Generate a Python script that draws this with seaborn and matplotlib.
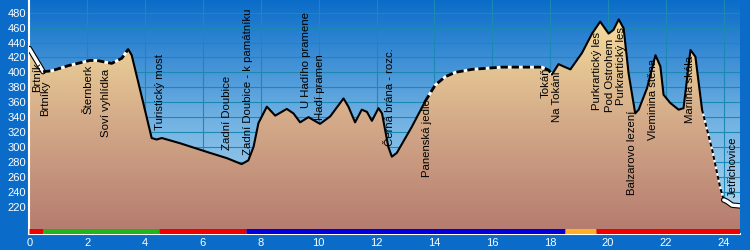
import numpy as np
import pandas as pd
import matplotlib.pyplot as plt
import matplotlib.patheffects as pe
from matplotlib.patches import Polygon
from matplotlib.colors import LinearSegmentedColormap
import seaborn as sns

# profil trasy (km, m n.m.)
km = [0, 0.48, 0.77, 1.35, 2.1, 2.33, 2.85, 3.2, 3.42, 3.54, 3.89, 4.23, 4.4, 4.58, 5.21,
      6.25, 6.83, 7.34, 7.57, 7.75, 7.92, 8.21, 8.5, 8.9, 9.13, 9.36, 9.65, 9.82, 10.05, 10.4,
      10.86, 11.03, 11.26, 11.49, 11.67, 11.84, 12.07, 12.19, 12.41, 12.53, 12.7, 13.22, 13.68,
      14.03, 14.37, 14.72, 15.3, 16.33, 17.72, 17.95, 18.06, 18.29, 18.46, 18.7, 19.1, 19.45,
      19.73, 20.02, 20.19, 20.37, 20.54, 20.71, 20.94, 21.06, 21.35, 21.64, 21.81, 21.92, 22.15,
      22.44, 22.61, 22.85, 23.02, 23.25, 23.6, 23.88, 24.0, 24.11, 24.29, 24.57]
elev = [432, 401, 402, 409, 416, 416, 412, 419, 431, 423, 367, 312, 310, 312, 305,
        292, 285, 277, 282, 300, 332, 354, 342, 351, 345, 333, 340, 336, 331, 341,
        365, 354, 333, 350, 347, 335, 352, 345, 300, 287, 292, 327, 361,
        383, 394, 400, 404, 407, 407, 403, 397, 411, 408, 404, 426, 452,
        468, 452, 457, 471, 459, 399, 345, 350, 379, 423, 408, 370, 359,
        350, 352, 430, 421, 350, 296, 245, 229, 227, 222, 221]

# typ povrchu cesty
seg_start = [0, 0.48, 3.42, 13.68, 18.06, 23.25, 24.0]
seg_end = [0.48, 3.42, 13.68, 18.06, 23.25, 24.0, 24.57]
seg_type = ['white', 'dashed', 'solid', 'dashed', 'solid', 'dotted', 'white']

# barva značení
mark_start = [0, 0.48, 4.48, 7.5, 18.53, 19.57]
mark_end = [0.48, 4.48, 7.5, 18.53, 19.57, 24.57]
mark_color = ['#ee0000', '#1fb51f', '#ee0000', '#0000dd', '#ffb025', '#ee0000']

# popisky
lbl_text = ['Brtník', 'Brtníky', 'Šternberk', 'Soví vyhlídka', 'Turistický most',
            'Zadní Doubice', 'Zadní Doubice - k památníku', 'U Hadího pramene', 'Hadí pramen',
            'Černá brána - rozc.', 'Panenská jedle', 'Tokáň', 'Na Tokáni', 'Purkrartický les',
            'Pod Ostrohem', 'Purkrartický les', 'Balzarovo lezení', 'Vleminina stěna',
            'Mariina skála', 'Jetřichovice']
lbl_km = [0.27, 0.54, 2.06, 2.66, 4.52, 6.84, 7.56, 9.57, 10.05, 12.47, 13.75, 17.83, 18.25,
          19.63, 20.08, 20.46, 20.84, 21.56, 22.84, 24.33]
lbl_y = [374, 341, 344, 313, 323, 296, 289, 352, 336, 301, 260, 366, 334, 350, 347, 356,
         235, 309, 332, 233]

df = pd.DataFrame({'km': km, 'elev': elev})

sns.set_style('white')
plt.rcParams['font.family'] = ['Liberation Sans', 'DejaVu Sans']

bg = '#0a6cc8'
fig = plt.figure(figsize=(7.5, 2.5), dpi=100, facecolor=bg)
ax = fig.add_axes([0.039, 0.063, 0.948, 0.937])
x0, x1, y0, y1 = 0, 24.57, 183, 497

# obloha
sky = LinearSegmentedColormap.from_list('sky', ['#b8dcf2', '#6fb0e2', '#0a6cc8'])
grad = np.linspace(0, 1, 256).reshape(-1, 1)
ax.imshow(grad, cmap=sky, origin='lower', aspect='auto', extent=[x0, x1, y0, y1], zorder=0)

# teren
soil = LinearSegmentedColormap.from_list('soil', ['#b47a6e', '#d2a888', '#f5dc9c'])
terrain = ax.imshow(grad, cmap=soil, origin='lower', aspect='auto',
                    extent=[x0, x1, y0, 470], zorder=2)
poly = Polygon(list(zip(km, elev)) + [(x1, y0), (x0, y0)], closed=True,
               facecolor='none', edgecolor='none')
ax.add_patch(poly)
terrain.set_clip_path(poly)

# čára profilu
for s, e, t in zip(seg_start, seg_end, seg_type):
    part = df[(df['km'] >= s) & (df['km'] <= e)]
    if t == 'white':
        sns.lineplot(data=part, x='km', y='elev', ax=ax, color='white', lw=2.4, zorder=4,
                     path_effects=[pe.Stroke(linewidth=4.0, foreground='black'), pe.Normal()])
    elif t == 'dashed':
        sns.lineplot(data=part, x='km', y='elev', ax=ax, color='black', lw=2.0, zorder=4,
                     linestyle=(0, (2.6, 1.4)), gapcolor='white')
    elif t == 'dotted':
        sns.lineplot(data=part, x='km', y='elev', ax=ax, color='black', lw=1.4, zorder=4,
                     linestyle=(0, (2, 1.5)), gapcolor='white')
    else:
        sns.lineplot(data=part, x='km', y='elev', ax=ax, color='black', lw=1.5, zorder=4)

# barevné značení
for s, e, c in zip(mark_start, mark_end, mark_color):
    ax.hlines(187.5, s, e, color=c, lw=3.6, zorder=5)

for t, x, y in zip(lbl_text, lbl_km, lbl_y):
    ax.text(x, y, t, rotation=90, ha='center', va='bottom', fontsize=8.2, color='black', zorder=6)

ax.set_xlim(x0, x1)
ax.set_ylim(y0, y1)
ax.set_xticks(range(0, 25, 2))
ax.set_yticks(range(220, 481, 20))
ax.grid(True, color='#1c88b4', lw=0.8)
ax.set_axisbelow(True)
for sp in ['top', 'right']:
    ax.spines[sp].set_visible(False)
for sp in ['left', 'bottom']:
    ax.spines[sp].set_color('white')
    ax.spines[sp].set_linewidth(1.5)
ax.tick_params(colors='white', labelsize=8, length=2, width=1, pad=0.5)
ax.set_xlabel('')
ax.set_ylabel('')

fig.savefig('out.png', dpi=100, facecolor=bg)
